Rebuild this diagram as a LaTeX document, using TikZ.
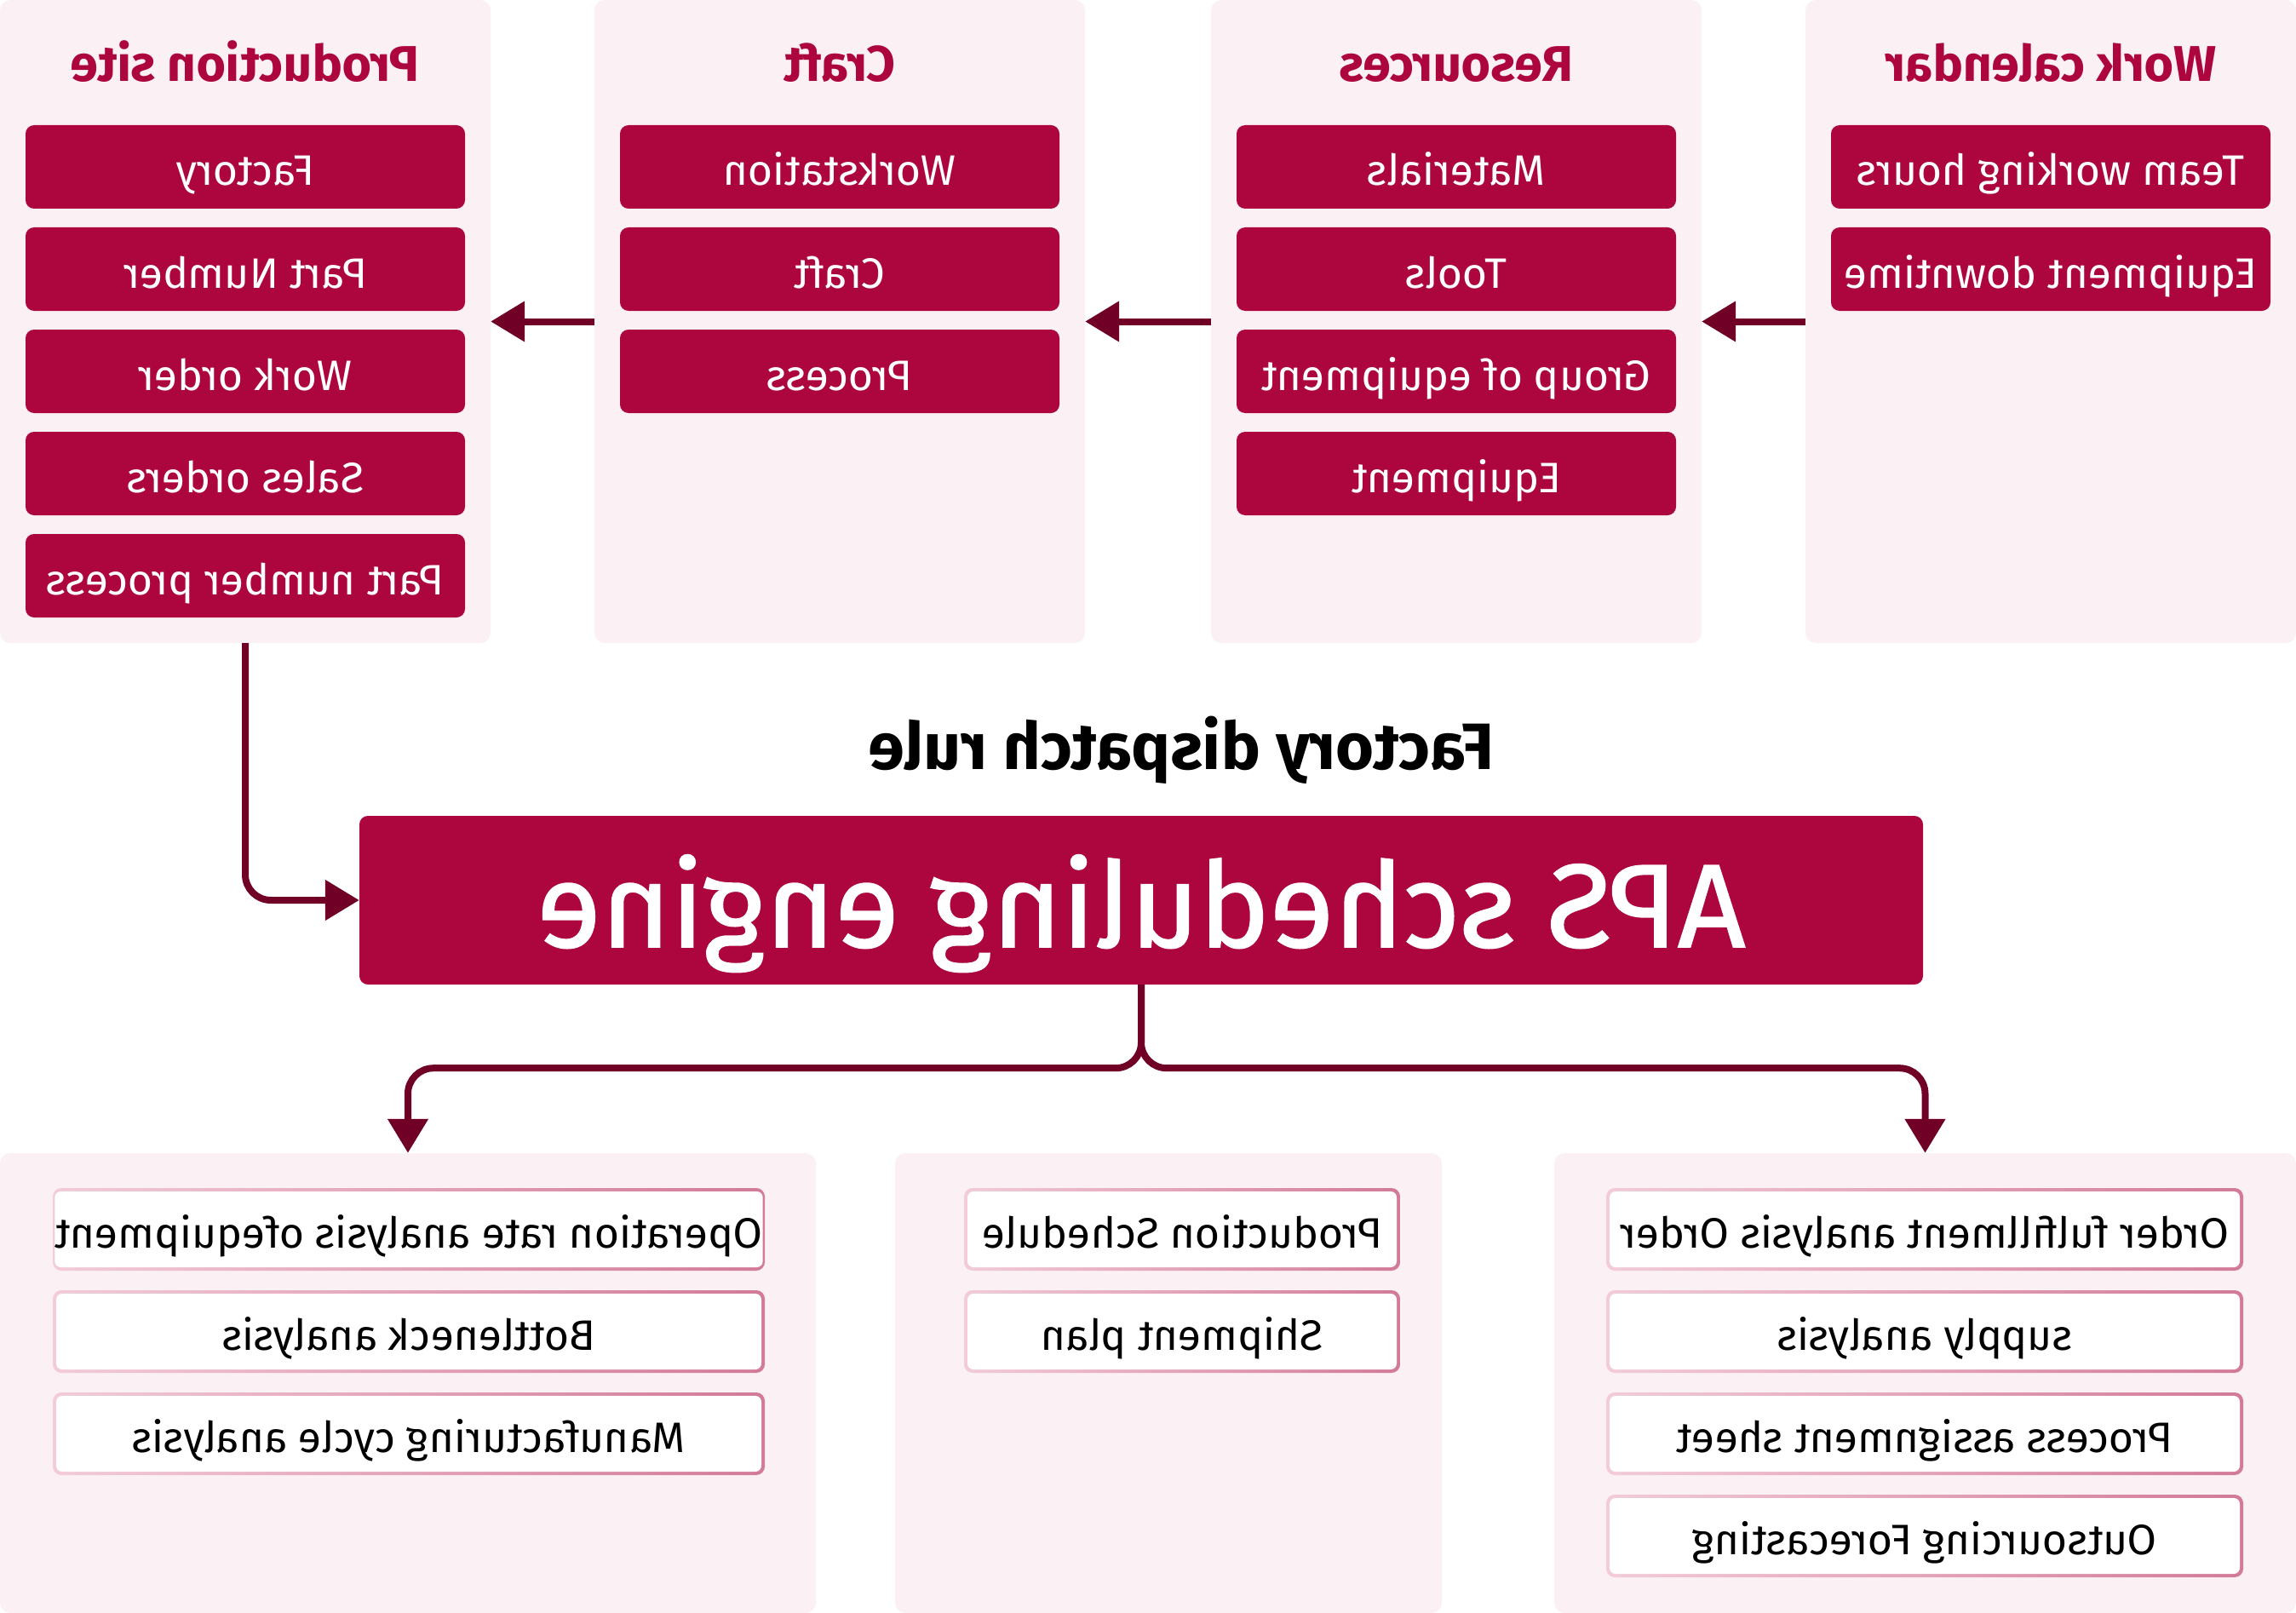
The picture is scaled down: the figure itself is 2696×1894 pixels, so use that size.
\documentclass[tikz,border=0pt]{standalone}
\usepackage{fontspec}
\setmainfont{Fira Sans}
\newfontfamily\medfont[FakeBold=1.2]{Fira Sans}
\usetikzlibrary{arrows.meta}
\definecolor{crim}{HTML}{AD053D}
\definecolor{arrc}{HTML}{700026}
\definecolor{panelbg}{HTML}{FBF0F3}
\definecolor{brdL}{HTML}{F2CCD8}
\definecolor{brdR}{HTML}{D27A97}
\begin{document}
\begin{tikzpicture}[x=1pt,y=-1pt,
  panel/.style={fill=panelbg, rounded corners=12pt, inner sep=0pt, draw=none},
  ptitle/.style={text=crim, font=\fontsize{59}{66}\selectfont\bfseries, xscale=-1, inner sep=0pt, anchor=base},
  topbox/.style={fill=crim, rounded corners=10pt, minimum width=516pt, minimum height=98pt, text=white,
    font=\fontsize{50}{60}\selectfont, xscale=-1, inner sep=0pt, text height=44pt, text depth=0pt},
  bframe/.style={left color=brdL, right color=brdR, rounded corners=10pt, minimum height=97pt, inner sep=0pt, draw=none},
  bin/.style={fill=white, rounded corners=7pt, minimum height=89pt, text=black,
    font=\fontsize{50}{60}\selectfont, xscale=-1, inner sep=0pt, text height=44pt, text depth=0pt},
  arr/.style={draw=arrc, line width=8pt, -{Triangle[length=40pt,width=46pt]}}
]
\useasboundingbox (0,0) rectangle (2696,1894);
% top panels
\node[panel, minimum width=576pt, minimum height=755pt] (p1) at (288,377.5) {};
\node[panel, minimum width=576pt, minimum height=755pt] (p2) at (986,377.5) {};
\node[panel, minimum width=576pt, minimum height=755pt] (p3) at (1710,377.5) {};
\node[panel, minimum width=576pt, minimum height=755pt] (p4) at (2408,377.5) {};
% titles
\node[ptitle] (t1) at (288,96) {Production site};
\node[ptitle] (t2) at (986,96) {Craft};
\node[ptitle] (t3) at (1710,96) {Resources};
\node[ptitle] (t4) at (2408,96) {Work calendar};
% panel 1 boxes
\node[topbox] (a1) at (288,196) {Factory};
\node[topbox] (a2) at (288,316) {Part Number};
\node[topbox] (a3) at (288,436) {Work order};
\node[topbox] (a4) at (288,556) {Sales orders};
\node[topbox] (a5) at (288,676) {Part number process};
% panel 2 boxes
\node[topbox] (c1) at (986,196) {Workstation};
\node[topbox] (c2) at (986,316) {Craft};
\node[topbox] (c3) at (986,436) {Process};
% panel 3 boxes
\node[topbox] (r1) at (1710,196) {Materials};
\node[topbox] (r2) at (1710,316) {Tools};
\node[topbox] (r3) at (1710,436) {Group of equipment};
\node[topbox] (r4) at (1710,556) {Equipment};
% panel 4 boxes
\node[topbox] (w1) at (2408,196) {Team working hours};
\node[topbox] (w2) at (2408,316) {Equipment downtime};
% arrows between panels
\draw[arr] (p2.west) -- (p1.east);
\draw[arr] (p3.west) -- (p2.east);
\draw[arr] (p4.west) -- (p3.east);
% dispatch rule label and engine
\node[font=\fontsize{77}{82}\selectfont\bfseries, xscale=-1, anchor=base, inner sep=0pt] (fdr) at (1387,903) {Factory dispatch rule};
\node[fill=crim, rounded corners=10pt, minimum width=1836pt, minimum height=198pt, inner sep=0pt,
  text=white, font=\fontsize{139}{150}\selectfont\medfont, text height=110pt, text depth=0pt] (eng) at (1340,1057) {\scalebox{-1}[1]{APS scheduling engine}};
\draw[arr, rounded corners=30pt] (p1.south) |- (eng.west);
% bottom panels
\node[panel, minimum width=958pt, minimum height=540pt] (b1) at (479,1624) {};
\node[panel, minimum width=642pt, minimum height=540pt] (b2) at (1372,1624) {};
\node[panel, minimum width=871pt, minimum height=540pt] (b3) at (2260.5,1624) {};
\draw[arr, rounded corners=30pt] (eng.south) -- ++(0,98) -| (b1.north);
\draw[arr, rounded corners=30pt] (eng.south) -- ++(0,98) -| (b3.north);
% bottom panel 1 boxes
\node[bframe, minimum width=836pt] (o1f) at (480,1443.5) {};
\node[bin, minimum width=828pt] (o1) at (o1f) {Operation rate analysis ofequipment};
\node[bframe, minimum width=836pt] (o2f) at (480,1563.5) {};
\node[bin, minimum width=828pt] (o2) at (o2f) {Bottleneck analysis};
\node[bframe, minimum width=836pt] (o3f) at (480,1683.5) {};
\node[bin, minimum width=828pt] (o3) at (o3f) {Manufacturing cycle analysis};
% bottom panel 2 boxes
\node[bframe, minimum width=512pt] (s1f) at (1388,1443.5) {};
\node[bin, minimum width=504pt] (s1) at (s1f) {Production Schedule};
\node[bframe, minimum width=512pt] (s2f) at (1388,1563.5) {};
\node[bin, minimum width=504pt] (s2) at (s2f) {Shipment plan};
% bottom panel 3 boxes
\node[bframe, minimum width=748pt] (q1f) at (2260,1443.5) {};
\node[bin, minimum width=740pt] (q1) at (q1f) {Order fulfillment analysis Order};
\node[bframe, minimum width=748pt] (q2f) at (2260,1563.5) {};
\node[bin, minimum width=740pt] (q2) at (q2f) {supply analysis};
\node[bframe, minimum width=748pt] (q3f) at (2260,1683.5) {};
\node[bin, minimum width=740pt] (q3) at (q3f) {Process assignment sheet};
\node[bframe, minimum width=748pt] (q4f) at (2260,1803.5) {};
\node[bin, minimum width=740pt] (q4) at (q4f) {Outsourcing Forecasting};
\end{tikzpicture}
\end{document}
